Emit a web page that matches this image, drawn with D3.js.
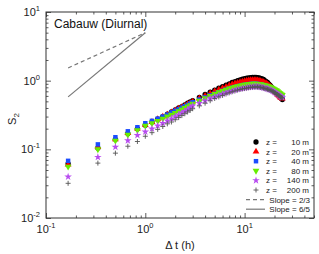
<!DOCTYPE html>
<html>
<head>
<meta charset="utf-8">
<script src="https://cdn.jsdelivr.net/npm/d3@7"></script>
<style>
  body { margin: 0; background: #fff; }
  svg { font-family: "Liberation Sans", Arial, sans-serif; }
</style>
</head>
<body>
<svg id="chart" width="319" height="254"></svg>
<script>
// time lag in hours
const dtHours = [0.167, 0.333, 0.5, 0.667, 0.833, 1, 1.167, 1.333, 1.5, 1.667, 1.833, 2, 2.167, 2.333, 2.5, 2.667, 2.833, 3,
  3.5, 4, 4.5, 5, 5.5, 6, 6.5, 7, 7.5, 8, 8.5, 9, 9.5, 10, 10.5, 11, 11.5, 12, 12.5, 13, 13.5, 14, 14.5, 15, 15.5, 16,
  16.5, 17, 17.5, 18, 18.5, 19, 19.5, 20, 20.5, 21, 21.5, 22, 22.5, 23, 23.5, 24]

const s2z10 = [0.062, 0.105, 0.14, 0.17, 0.20, 0.225, 0.25, 0.275, 0.30, 0.325, 0.35, 0.375, 0.40, 0.42, 0.445, 0.47, 0.49, 0.51,
  0.57, 0.63, 0.68, 0.73, 0.78, 0.82, 0.86, 0.90, 0.94, 0.97, 1.00, 1.03, 1.05, 1.07, 1.09, 1.10, 1.11, 1.12, 1.12, 1.12, 1.11, 1.10,
  1.08, 1.06, 1.04, 1.00, 0.97, 0.94, 0.90, 0.86, 0.82, 0.78, 0.74, 0.71, 0.68, 0.65, 0.63, 0.61, 0.59, 0.57, 0.55, 0.53]
const s2z20 = [0.060, 0.108, 0.14, 0.172, 0.20, 0.228, 0.25, 0.275, 0.30, 0.32, 0.345, 0.37, 0.39, 0.41, 0.43, 0.455, 0.475, 0.495,
  0.55, 0.60, 0.65, 0.70, 0.74, 0.78, 0.81, 0.85, 0.88, 0.91, 0.93, 0.95, 0.97, 0.985, 1.0, 1.01, 1.02, 1.02, 1.02, 1.02, 1.01, 1.0,
  0.985, 0.97, 0.95, 0.93, 0.91, 0.88, 0.86, 0.83, 0.80, 0.77, 0.74, 0.71, 0.68, 0.66, 0.63, 0.61, 0.59, 0.57, 0.56, 0.55]
const s2z40 = [0.068, 0.118, 0.15, 0.183, 0.21, 0.24, 0.26, 0.28, 0.30, 0.32, 0.345, 0.365, 0.385, 0.405, 0.425, 0.445, 0.465, 0.485,
  0.53, 0.57, 0.61, 0.645, 0.68, 0.71, 0.74, 0.765, 0.79, 0.81, 0.83, 0.845, 0.86, 0.87, 0.88, 0.89, 0.895, 0.9, 0.9, 0.9, 0.895, 0.89,
  0.88, 0.87, 0.86, 0.85, 0.84, 0.83, 0.815, 0.80, 0.785, 0.77, 0.75, 0.73, 0.71, 0.69, 0.67, 0.65, 0.63, 0.61, 0.60, 0.59]
const s2z80 = [0.056, 0.10, 0.134, 0.163, 0.19, 0.22, 0.24, 0.26, 0.28, 0.30, 0.32, 0.34, 0.36, 0.38, 0.40, 0.42, 0.44, 0.46,
  0.51, 0.555, 0.60, 0.64, 0.68, 0.71, 0.74, 0.77, 0.79, 0.81, 0.83, 0.845, 0.86, 0.87, 0.88, 0.89, 0.895, 0.9, 0.9, 0.9, 0.895, 0.89,
  0.885, 0.875, 0.865, 0.855, 0.845, 0.835, 0.82, 0.81, 0.795, 0.78, 0.765, 0.75, 0.735, 0.72, 0.70, 0.68, 0.66, 0.645, 0.63, 0.62]
const s2z140 = [0.040, 0.077, 0.108, 0.134, 0.16, 0.18, 0.20, 0.22, 0.24, 0.26, 0.28, 0.30, 0.32, 0.34, 0.36, 0.38, 0.405, 0.43,
  0.47, 0.51, 0.55, 0.58, 0.61, 0.64, 0.665, 0.69, 0.71, 0.73, 0.75, 0.765, 0.775, 0.785, 0.795, 0.805, 0.81, 0.815, 0.82, 0.82, 0.82, 0.815,
  0.81, 0.80, 0.79, 0.78, 0.77, 0.76, 0.75, 0.74, 0.73, 0.71, 0.70, 0.68, 0.67, 0.65, 0.64, 0.62, 0.61, 0.59, 0.58, 0.57]
const s2z200 = [0.032, 0.063, 0.088, 0.111, 0.13, 0.155, 0.175, 0.195, 0.215, 0.235, 0.25, 0.27, 0.29, 0.31, 0.33, 0.35, 0.37, 0.39,
  0.43, 0.47, 0.51, 0.55, 0.58, 0.61, 0.64, 0.665, 0.69, 0.71, 0.73, 0.745, 0.76, 0.77, 0.78, 0.79, 0.80, 0.805, 0.81, 0.81, 0.81, 0.805,
  0.80, 0.79, 0.78, 0.77, 0.76, 0.75, 0.74, 0.73, 0.72, 0.70, 0.69, 0.67, 0.66, 0.64, 0.63, 0.61, 0.60, 0.58, 0.57, 0.56]

const seriesLabels = ["10 m", "20 m", "40 m", "80 m", "140 m", "200 m"]

// reference slope lines
const slopeX = [0.167, 1]
const slope23 = [1.53, 5]
const slope65 = [0.58, 5]

const xTickValues = [0.1, 1, 10]
const xTickExp = ["-1", "0", "1"]
const yTickValues = [0.01, 0.1, 1, 10]
const yTickExp = ["-2", "-1", "0", "1"]

const mLeft = 46, mRight = 314, mTop = 12, mBottom = 218

const svg = d3.select("#chart")

const xScale = d3.scaleLog().domain([0.1, 50]).range([mLeft, mRight])
const yScale = d3.scaleLog().domain([0.01, 10]).range([mBottom, mTop])

const frameColor = "#333"

// minor ticks between decades
const xMinor = []
for (let d = 0.1; d < 50; d *= 10) for (let k = 2; k <= 9; k++) if (d * k <= 50) xMinor.push(d * k)
const yMinor = []
for (let d = 0.01; d < 10; d *= 10) for (let k = 2; k <= 9; k++) yMinor.push(d * k)

const drawAxis = (axis, transform) => {
  svg.append("g")
    .attr("transform", transform)
    .call(axis)
    .call(g => g.select(".domain").remove())
    .call(g => g.selectAll("line").attr("stroke", frameColor).attr("stroke-width", 0.8))
}

drawAxis(d3.axisBottom(xScale).tickValues(xTickValues).tickSize(-5).tickFormat(""), `translate(0,${mBottom})`)
drawAxis(d3.axisBottom(xScale).tickValues(xMinor).tickSize(-2.5).tickFormat(""), `translate(0,${mBottom})`)
drawAxis(d3.axisTop(xScale).tickValues(xTickValues).tickSize(-5).tickFormat(""), `translate(0,${mTop})`)
drawAxis(d3.axisTop(xScale).tickValues(xMinor).tickSize(-2.5).tickFormat(""), `translate(0,${mTop})`)
drawAxis(d3.axisLeft(yScale).tickValues(yTickValues).tickSize(-5).tickFormat(""), `translate(${mLeft},0)`)
drawAxis(d3.axisLeft(yScale).tickValues(yMinor).tickSize(-2.5).tickFormat(""), `translate(${mLeft},0)`)
drawAxis(d3.axisRight(yScale).tickValues(yTickValues).tickSize(-5).tickFormat(""), `translate(${mRight},0)`)
drawAxis(d3.axisRight(yScale).tickValues(yMinor).tickSize(-2.5).tickFormat(""), `translate(${mRight},0)`)

svg.append("rect")
  .attr("x", mLeft).attr("y", mTop)
  .attr("width", mRight - mLeft).attr("height", mBottom - mTop)
  .attr("fill", "none").attr("stroke", frameColor).attr("stroke-width", 1)

// tick labels like 10^-1
const powLabel = (sel, exp) => {
  sel.append("tspan").text("10")
  sel.append("tspan").attr("font-size", 7.5).attr("dy", -5).text(exp)
}
xTickValues.forEach((v, i) => {
  svg.append("text")
    .attr("x", xScale(v)).attr("y", mBottom + 15)
    .attr("text-anchor", "middle").attr("font-size", 11).attr("fill", "#222")
    .call(powLabel, xTickExp[i])
})
yTickValues.forEach((v, i) => {
  svg.append("text")
    .attr("x", mLeft - 6).attr("y", yScale(v) + 4)
    .attr("text-anchor", "end").attr("font-size", 11).attr("fill", "#222")
    .call(powLabel, yTickExp[i])
})

svg.append("text")
  .attr("x", (mLeft + mRight) / 2).attr("y", mBottom + 31)
  .attr("text-anchor", "middle").attr("font-size", 11).attr("fill", "#222")
  .text("\u0394 t (h)")

svg.append("text")
  .attr("transform", `translate(16, ${(mTop + mBottom) / 2 + 4}) rotate(-90)`)
  .attr("text-anchor", "middle").attr("font-size", 11).attr("fill", "#222")
  .call(t => {
    t.append("tspan").text("S")
    t.append("tspan").attr("font-size", 8).attr("dy", 3).text("2")
  })

svg.append("text")
  .attr("x", 54).attr("y", 28)
  .attr("font-size", 12).attr("fill", "#111")
  .text("Cabauw (Diurnal)")

// slope lines
const slopeLine = d3.line().x(d => xScale(d[0])).y(d => yScale(d[1]))
svg.append("path")
  .attr("d", slopeLine(d3.zip(slopeX, slope23)))
  .attr("fill", "none").attr("stroke", "#777").attr("stroke-width", 1.2)
  .attr("stroke-dasharray", "4,3")
svg.append("path")
  .attr("d", slopeLine(d3.zip(slopeX, slope65)))
  .attr("fill", "none").attr("stroke", "#777").attr("stroke-width", 1.2)

// marker styles
const plusPath = "M-2.5,0H2.5M0,-2.5V2.5"
const markers = [
  { data: s2z10, color: "#000", path: d3.symbol(d3.symbolCircle, 22)() },
  { data: s2z20, color: "#ff0000", path: d3.symbol(d3.symbolTriangle, 20)() },
  { data: s2z40, color: "#1a4cff", path: d3.symbol(d3.symbolSquare, 20)() },
  { data: s2z80, color: "#66ee00", path: d3.symbol(d3.symbolTriangle, 20)(), rot: 180 },
  { data: s2z140, color: "#b84cf0", path: d3.symbol(d3.symbolStar, 18)() },
  { data: s2z200, color: "#555", path: plusPath, stroke: true }
]

markers.forEach(m => {
  svg.append("g")
    .selectAll("path")
    .data(d3.zip(dtHours, m.data))
    .enter()
    .append("path")
    .attr("d", m.path)
    .attr("transform", d => `translate(${xScale(d[0])},${yScale(d[1])})${m.rot ? " rotate(" + m.rot + ")" : ""}`)
    .attr("fill", m.stroke ? "none" : m.color)
    .attr("stroke", m.stroke ? m.color : "none")
    .attr("stroke-width", 0.9)
})

// legend
const legX = 256, legY = 142, legStep = 9.6
const legend = svg.append("g").attr("font-size", 8).attr("fill", "#222")
markers.forEach((m, i) => {
  const y = legY + i * legStep
  legend.append("path")
    .attr("d", m.path)
    .attr("transform", `translate(${legX},${y})${m.rot ? " rotate(" + m.rot + ")" : ""}`)
    .attr("fill", m.stroke ? "none" : m.color)
    .attr("stroke", m.stroke ? m.color : "none")
    .attr("stroke-width", 0.9)
  legend.append("text").attr("x", 266).attr("y", y + 3).text("z =")
  legend.append("text").attr("x", 309).attr("y", y + 3).attr("text-anchor", "end").text(seriesLabels[i])
})
const lineLegend = [
  { label: "Slope = 2/3", dash: "4,3" },
  { label: "Slope = 6/5", dash: null }
]
lineLegend.forEach((l, i) => {
  const y = legY + (6 + i) * legStep
  legend.append("line")
    .attr("x1", 246).attr("x2", 265).attr("y1", y).attr("y2", y)
    .attr("stroke", "#777").attr("stroke-width", 1.2)
    .attr("stroke-dasharray", l.dash)
  legend.append("text").attr("x", 310).attr("y", y + 3).attr("text-anchor", "end").text(l.label)
})
</script>
</body>
</html>
